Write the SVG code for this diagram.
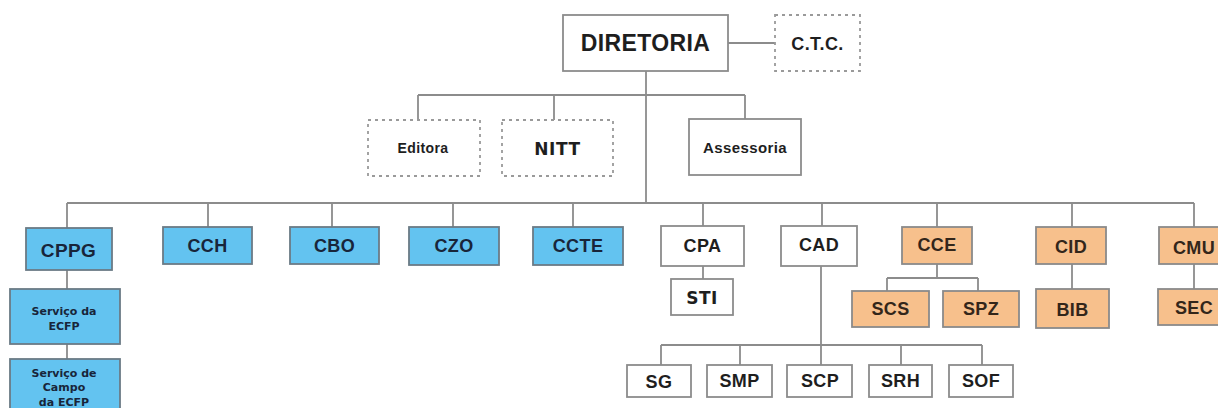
<svg xmlns="http://www.w3.org/2000/svg" width="1218" height="408" viewBox="0 0 1218 408">
<style>
.bg{fill:#ffffff}
.w{fill:#ffffff;stroke:#8c8c8c;stroke-width:1.8}
.d{fill:#ffffff;stroke:#9a9a9a;stroke-width:1.8;stroke-dasharray:3 4}
.b{fill:#63c3f0;stroke:#6b7b85;stroke-width:1.8}
.o{fill:#f7c08c;stroke:#8a8a8a;stroke-width:1.8}
.c{fill:none;stroke:#8c8c8c;stroke-width:1.8}
text{font-family:"Liberation Sans",Arial,sans-serif;font-weight:bold;text-anchor:middle;dominant-baseline:central;font-size:18px;letter-spacing:0.4px}
.v{font-family:"DejaVu Sans",Verdana,sans-serif}
.t{fill:#1e1e1e}
.tb{fill:#18253a}
.to{fill:#33261a}
</style>
<rect class="bg" x="0" y="0" width="1218" height="408"/>
<g id="connectors">
<path class="c" d="M728 43H775"/>
<path class="c" d="M646 71V203"/>
<path class="c" d="M418 95H745M418 95V120M554 95V120M745 95V119"/>
<path class="c" d="M67 203H1194"/>
<path class="c" d="M67 203V228M208 203V227M332 203V227M453 203V227M573 203V227M703 203V226M822 203V226M937 203V227M1072 203V227M1194 203V227"/>
<path class="c" d="M67 270V289M67 344V359"/>
<path class="c" d="M703 266V279"/>
<path class="c" d="M821 266V365M661 345H982M661 345V365M740 345V365M901 345V365M982 345V365"/>
<path class="c" d="M937 264V278M887 278H978M887 278V291M978 278V291"/>
<path class="c" d="M1072 264V289"/>
<path class="c" d="M1194 264V289"/>
</g>
<g id="diretoria"><rect class="w" x="563" y="15" width="165" height="56"/><text class="t" x="645.5" y="43" style="font-size:23px">DIRETORIA</text></g>
<g id="ctc"><rect class="d" x="775" y="15" width="85" height="56"/><text class="t" x="817.5" y="44" style="font-size:18px">C.T.C.</text></g>
<g id="editora"><rect class="d" x="368" y="120" width="112" height="56"/><text class="t" x="423" y="148" style="font-size:14px">Editora</text></g>
<g id="nitt"><rect class="d" x="502" y="120" width="111" height="56"/><text class="t v" x="557.5" y="149" style="font-size:17px;letter-spacing:0.6px">NITT</text></g>
<g id="assessoria"><rect class="w" x="689" y="119" width="112" height="56"/><text class="t" x="745" y="147" style="font-size:15px">Assessoria</text></g>
<g id="cppg"><rect class="b" x="26" y="228" width="86" height="42"/><text class="tb" x="68.5" y="250" style="font-size:19px">CPPG</text></g>
<g id="servico-ecfp"><rect class="b" x="10" y="289" width="110" height="55"/><text class="tb v" x="64" y="311" style="font-size:11px;letter-spacing:0">Serviço da</text><text class="tb v" x="64" y="326" style="font-size:11px;letter-spacing:0">ECFP</text></g>
<g id="servico-campo"><rect class="b" x="10" y="359" width="110" height="60"/><text class="tb v" x="64" y="373" style="font-size:11px;letter-spacing:0">Serviço de</text><text class="tb v" x="64" y="387.5" style="font-size:11px;letter-spacing:0">Campo</text><text class="tb v" x="64" y="402" style="font-size:11px;letter-spacing:0">da ECFP</text></g>
<g id="cch"><rect class="b" x="163" y="227" width="89" height="37"/><text class="tb" x="207.5" y="246">CCH</text></g>
<g id="cbo"><rect class="b" x="290" y="227" width="89" height="37"/><text class="tb" x="334.5" y="246">CBO</text></g>
<g id="czo"><rect class="b" x="409" y="227" width="90" height="38"/><text class="tb" x="454" y="246">CZO</text></g>
<g id="ccte"><rect class="b" x="533" y="227" width="90" height="38"/><text class="tb" x="578" y="246">CCTE</text></g>
<g id="cpa"><rect class="w" x="661" y="226" width="83" height="40"/><text class="t" x="702.5" y="246">CPA</text></g>
<g id="sti"><rect class="w" x="671" y="279" width="62" height="36"/><text class="t v" x="702" y="298" style="font-size:17px;letter-spacing:0.5px">STI</text></g>
<g id="cad"><rect class="w" x="781" y="226" width="76" height="40"/><text class="t" x="819" y="245">CAD</text></g>
<g id="sg"><rect class="w" x="627" y="365" width="64" height="32"/><text class="t" x="659" y="382">SG</text></g>
<g id="smp"><rect class="w" x="707" y="365" width="65" height="32"/><text class="t" x="739.5" y="381">SMP</text></g>
<g id="scp"><rect class="w" x="787" y="365" width="65" height="32"/><text class="t" x="820" y="381">SCP</text></g>
<g id="srh"><rect class="w" x="869" y="365" width="63" height="32"/><text class="t" x="900.5" y="381">SRH</text></g>
<g id="sof"><rect class="w" x="949" y="365" width="64" height="32"/><text class="t" x="981" y="381">SOF</text></g>
<g id="cce"><rect class="o" x="902" y="227" width="70" height="37"/><text class="to" x="937" y="245">CCE</text></g>
<g id="scs"><rect class="o" x="852" y="291" width="77" height="36"/><text class="to" x="890.5" y="309">SCS</text></g>
<g id="spz"><rect class="o" x="943" y="291" width="76" height="36"/><text class="to" x="981" y="309">SPZ</text></g>
<g id="cid"><rect class="o" x="1036" y="227" width="70" height="37"/><text class="to" x="1071" y="247">CID</text></g>
<g id="bib"><rect class="o" x="1036" y="289" width="73" height="39"/><text class="to" x="1072.5" y="310">BIB</text></g>
<g id="cmu"><rect class="o" x="1159" y="227" width="70" height="37"/><text class="to" x="1194" y="248">CMU</text></g>
<g id="sec"><rect class="o" x="1158" y="289" width="70" height="36"/><text class="to" x="1194" y="308">SEC</text></g>
</svg>
